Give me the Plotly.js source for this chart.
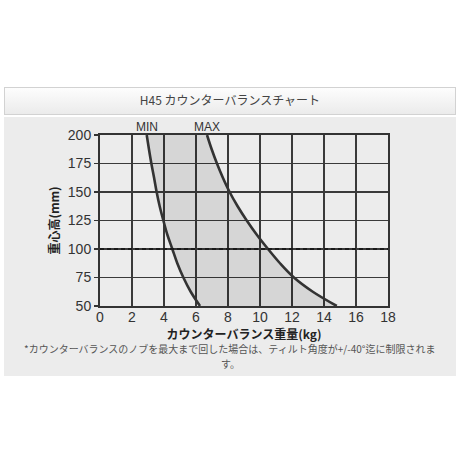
<!DOCTYPE html>
<html>
<head>
<meta charset="utf-8">
<script src="https://cdn.plot.ly/plotly-3.0.1.min.js"></script>
<style>
  html, body { margin: 0; padding: 0; background: #ffffff; }
  #wrap { position: relative; width: 460px; height: 460px; overflow: hidden; }
  #hdr { position: absolute; left: 4px; top: 87px; width: 450px; height: 26px;
         border: 1px solid #d2d2d2; background: linear-gradient(#fdfdfd, #ebebeb); }
  #panel { position: absolute; left: 4px; top: 117px; width: 452px; height: 259px; background: #ececec; }
  #chart { position: absolute; left: 0; top: 0; width: 460px; height: 460px; }
</style>
</head>
<body>
<div id="wrap">
  <div id="hdr"></div>
  <div id="panel"></div>
  <div id="chart"></div>
</div>
<script>
// ---- data ----
const heightsMm = [200, 187.5, 175, 162.5, 150, 137.5, 125, 112.5, 100, 87.5, 75, 62.5, 50];
const minKg = [2.92, 3.06, 3.21, 3.38, 3.54, 3.73, 3.96, 4.21, 4.52, 4.83, 5.21, 5.67, 6.25];
const maxKg = [6.69, 6.98, 7.31, 7.68, 8.1, 8.6, 9.17, 9.8, 10.5, 11.25, 12.12, 13.3, 14.8];
const curveLabels = ['MIN', 'MAX'];
const refHeight = 100;
const xRange = [0, 18];
const yRange = [50, 200];
const xTicks = [0, 2, 4, 6, 8, 10, 12, 14, 16, 18];
const yTicks = [50, 75, 100, 125, 150, 175, 200];
const titleText = 'H45 カウンターバランスチャート';
const xTitle = 'カウンターバランス重量(kg)';
const yTitle = '重心高(mm)';
const noteLines = ['*カウンターバランスのノブを最大まで回した場合は、ティルト角度が+/-40°迄に制限されま', 'す。'];

const jp = '"Noto Sans CJK JP", "Noto Sans", sans-serif';
const num = '"Liberation Sans", Arial, sans-serif';

const traces = [
  { x: minKg, y: heightsMm, mode: 'lines', line: { color: '#333333', width: 2.6, shape: 'spline', smoothing: 1 },
    hoverinfo: 'skip', showlegend: false },
  { x: maxKg, y: heightsMm, mode: 'lines', line: { color: '#333333', width: 2.6, shape: 'spline', smoothing: 1 },
    fill: 'tonextx', fillcolor: 'rgba(0,0,0,0.09)', hoverinfo: 'skip', showlegend: false },
  { x: xRange, y: [refHeight, refHeight], mode: 'lines',
    line: { color: '#1a1a1a', width: 1.8, dash: '4px,3px' }, hoverinfo: 'skip', showlegend: false }
];

const axisCommon = {
  showgrid: true, gridcolor: '#3a3a3a', gridwidth: 1.5,
  showline: true, mirror: true, linecolor: '#333333', linewidth: 2,
  zeroline: false, fixedrange: true,
  tickfont: { family: num, size: 14, color: '#333333' }
};

const noteFont = { family: jp, size: 10, color: '#555555' };

const layout = {
  width: 460, height: 460,
  margin: { l: 100, r: 72, t: 135, b: 154, pad: 0 },
  paper_bgcolor: 'rgba(0,0,0,0)', plot_bgcolor: '#ececec',
  title: { text: titleText, x: 0.5, xref: 'container', xanchor: 'center',
           y: 1 - 101 / 460, yref: 'container', yanchor: 'middle',
           font: { family: jp, size: 12, color: '#444444' } },
  xaxis: Object.assign({}, axisCommon, {
    range: xRange, tickvals: xTicks, ticks: '', ticklabelstandoff: -3,
    title: { text: xTitle, standoff: 0, font: { family: jp, size: 12, color: '#222222', weight: 'bold' } }
  }),
  yaxis: Object.assign({}, axisCommon, {
    range: yRange, tickvals: yTicks, ticks: 'outside', ticklen: 4, tickcolor: '#333333', tickwidth: 1.5,
    title: { text: yTitle, standoff: 6, font: { family: jp, size: 12, color: '#222222', weight: 'bold' } }
  }),
  annotations: [
    { text: curveLabels[0], x: minKg[0], y: 1, xref: 'x', yref: 'paper', xanchor: 'center', yanchor: 'bottom',
      yshift: -1, showarrow: false, font: { family: num, size: 12, color: '#333333' } },
    { text: curveLabels[1], x: maxKg[0], y: 1, xref: 'x', yref: 'paper', xanchor: 'center', yanchor: 'bottom',
      yshift: -1, showarrow: false, font: { family: num, size: 12, color: '#333333' } },
    { text: noteLines[0], x: (230 - 100) / 288, y: -0.2485, xref: 'paper', yref: 'paper',
      xanchor: 'center', yanchor: 'middle', showarrow: false, borderpad: 0, font: noteFont },
    { text: noteLines[1], x: (230 - 100) / 288, y: -0.336, xref: 'paper', yref: 'paper',
      xanchor: 'center', yanchor: 'middle', showarrow: false, borderpad: 0, font: noteFont }
  ],
  showlegend: false
};

Plotly.newPlot('chart', traces, layout, { displayModeBar: false, staticPlot: true });
</script>
</body>
</html>
